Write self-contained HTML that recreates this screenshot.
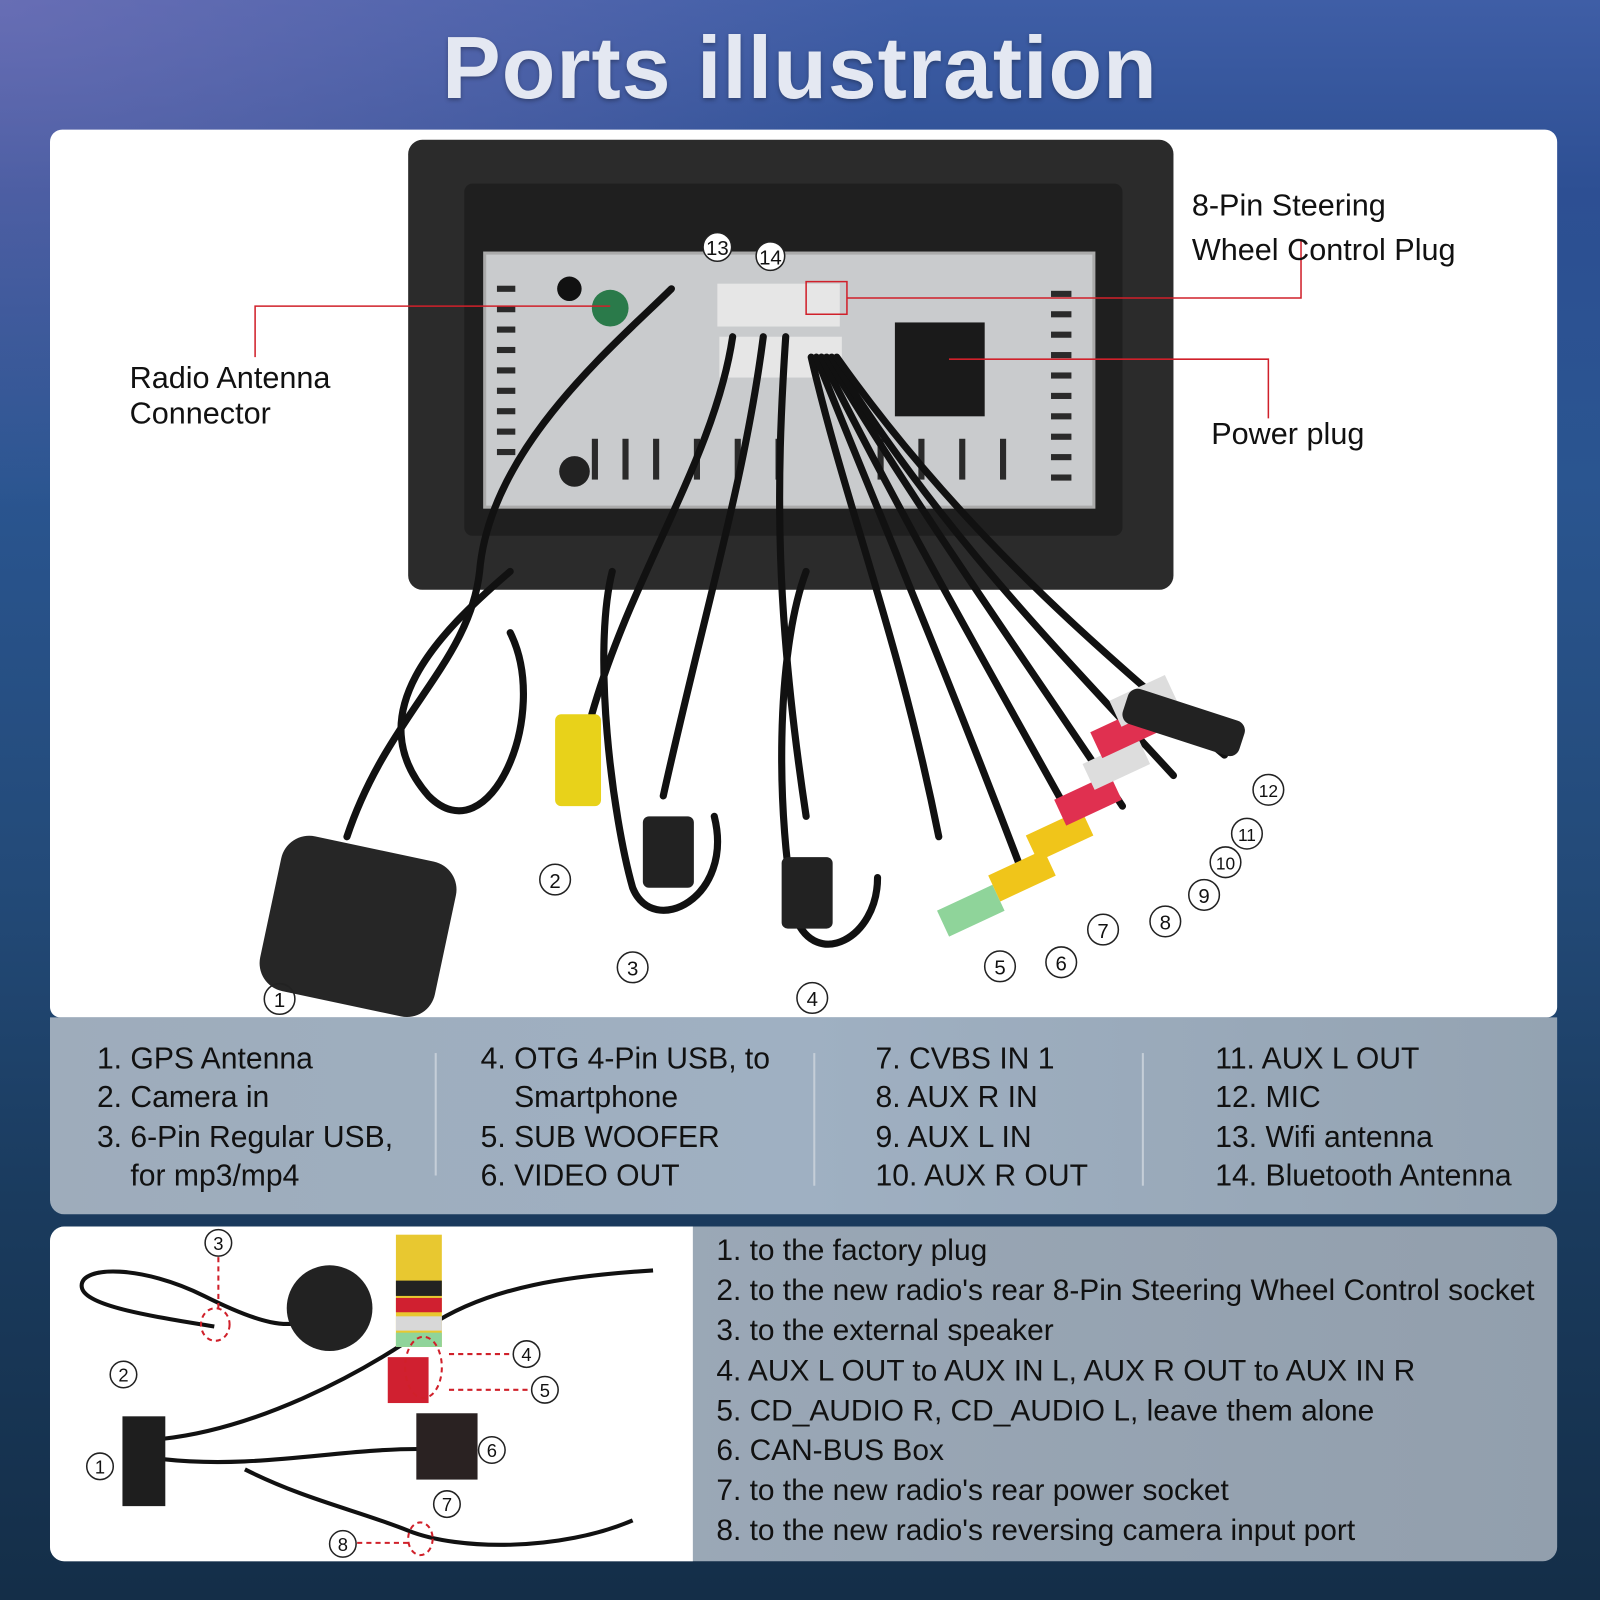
<!DOCTYPE html>
<html><head><meta charset="utf-8"><style>
html,body{margin:0;padding:0;width:1600px;height:1600px;overflow:hidden}
#w{position:absolute;left:0;top:0;width:1568px;height:1568px;transform:scale(1.020408);transform-origin:0 0;
background:linear-gradient(180deg,#3f5ea6 0%,#2d4f93 12%,#2a5590 30%,#234a78 55%,#1a3b5e 75%,#142e48 100%);font-family:"Liberation Sans",sans-serif;overflow:hidden}
#bgl{position:absolute;left:0;top:0;width:1568px;height:700px;background:radial-gradient(ellipse 900px 500px at 0 0,rgba(130,120,190,.6),rgba(40,70,160,0) 100%)}
.t{position:absolute;white-space:nowrap;color:#111}
.a{position:absolute}
</style></head><body><div id="w"><div id="bgl"></div>
<div class="t" style="left:0;width:1568px;text-align:center;top:18px;font-size:86px;font-weight:bold;color:#e4e8f2;letter-spacing:1px;text-shadow:0 2px 4px rgba(0,0,0,.3)">Ports illustration</div>

<div class="a" style="left:49px;top:127px;width:1477px;height:870px;background:#fff;border-radius:12px 12px 10px 10px"></div>
<div class="a" style="left:49px;top:997px;width:1477px;height:193px;background:linear-gradient(90deg,#9eacbb,#9fb0c2 50%,#94a3b2);border-radius:0 0 14px 14px"></div>
<div class="a" style="left:49px;top:1202px;width:1477px;height:328px;background:linear-gradient(90deg,#a0aebd,#929fad);border-radius:14px"></div>
<div class="a" style="left:49px;top:1202px;width:630px;height:328px;background:#fff;border-radius:14px 0 0 14px"></div>

<svg class="a" style="left:0;top:0" width="1568" height="1568">
<rect x="400" y="137" width="750" height="441" rx="14" fill="#2b2b2b"/>
<rect x="455" y="180" width="645" height="345" rx="8" fill="#1f1f1f"/>
<rect x="475" y="248" width="597" height="249" fill="#c9cbcd"/>
<rect x="475" y="248" width="597" height="249" fill="none" stroke="#aaa" stroke-width="3"/>
<g fill="#2a2a2a">
<rect x="487" y="280" width="18" height="6"/><rect x="487" y="300" width="18" height="6"/><rect x="487" y="320" width="18" height="6"/><rect x="487" y="340" width="18" height="6"/><rect x="487" y="360" width="18" height="6"/><rect x="487" y="380" width="18" height="6"/><rect x="487" y="400" width="18" height="6"/><rect x="487" y="420" width="18" height="6"/><rect x="487" y="440" width="18" height="6"/>
<rect x="1030" y="285" width="20" height="6"/><rect x="1030" y="305" width="20" height="6"/><rect x="1030" y="325" width="20" height="6"/><rect x="1030" y="345" width="20" height="6"/><rect x="1030" y="365" width="20" height="6"/><rect x="1030" y="385" width="20" height="6"/><rect x="1030" y="405" width="20" height="6"/><rect x="1030" y="425" width="20" height="6"/><rect x="1030" y="445" width="20" height="6"/><rect x="1030" y="465" width="20" height="6"/>
<rect x="580" y="430" width="6" height="40"/><rect x="610" y="430" width="6" height="40"/><rect x="640" y="430" width="6" height="40"/><rect x="680" y="430" width="6" height="40"/><rect x="720" y="430" width="6" height="40"/><rect x="760" y="430" width="6" height="40"/><rect x="860" y="430" width="6" height="40"/><rect x="900" y="430" width="6" height="40"/><rect x="940" y="430" width="6" height="40"/><rect x="980" y="430" width="6" height="40"/>
</g>
<circle cx="558" cy="283" r="12" fill="#111"/><circle cx="598" cy="302" r="18" fill="#2a7a4a"/><circle cx="563" cy="462" r="15" fill="#222"/>
<rect x="703" y="278" width="120" height="42" fill="#e6e6e6"/><rect x="705" y="330" width="120" height="40" fill="#e6e6e6"/>
<rect x="877" y="316" width="88" height="92" fill="#1a1a1a"/>
<g fill="none" stroke="#111" stroke-width="7" stroke-linecap="round">
<path d="M658 283 C600 340 480 440 470 560 C460 650 380 700 340 820"/>
<path d="M718 330 C700 450 620 560 580 700"/>
<path d="M748 330 C730 470 690 600 650 780"/>
<path d="M770 330 C760 480 760 600 790 800"/>
<path d="M795 350 C830 500 880 620 920 820"/>
<path d="M800 350 C860 500 920 640 1000 850"/>
<path d="M805 350 C880 500 960 640 1060 820"/>
<path d="M810 350 C900 500 1000 640 1100 790"/>
<path d="M815 350 C920 520 1040 640 1150 760"/>
<path d="M820 350 C940 520 1080 640 1200 740"/>
<path d="M500 560 C430 620 350 700 420 780 C480 840 540 700 500 620"/>
<path d="M600 560 C580 640 600 800 620 870 C640 920 720 880 700 800"/>
<path d="M790 560 C760 640 760 800 780 900 C800 950 860 920 860 860"/>
</g>
<rect x="265" y="830" width="175" height="155" rx="28" fill="#262626" transform="rotate(12 350 900)"/>
<rect x="544" y="700" width="45" height="90" rx="6" fill="#e8d21a"/>
<rect x="630" y="800" width="50" height="70" rx="6" fill="#222"/>
<rect x="766" y="840" width="50" height="70" rx="6" fill="#222"/>
<g transform="rotate(-25 1050 820)">
<rect x="900" y="830" width="60" height="28" fill="#8fd49a"/><rect x="960" y="820" width="60" height="28" fill="#f0c51a"/><rect x="1010" y="800" width="60" height="28" fill="#f0c51a"/><rect x="1050" y="780" width="60" height="28" fill="#e03050"/><rect x="1090" y="760" width="60" height="28" fill="#ddd"/><rect x="1110" y="735" width="60" height="28" fill="#e03050"/><rect x="1140" y="715" width="60" height="28" fill="#ddd"/>
</g>
<rect x="1100" y="690" width="120" height="36" rx="10" fill="#222" transform="rotate(18 1160 708)"/>
<g stroke="#d0202a" stroke-width="1.5" fill="none">
<path d="M250 350 V300 H598"/>
<path d="M790 276 H830 V308 H790 Z"/><path d="M830 292 H1275 V235"/>
<path d="M930 352 H1243 V410"/>
</g>
<g fill="none" stroke="#222" stroke-width="1.5">
<circle cx="703" cy="242" r="14" fill="#fff"/><circle cx="755" cy="251" r="14" fill="#fff"/>
<circle cx="274" cy="979" r="15"/><circle cx="544" cy="862" r="15"/><circle cx="620" cy="948" r="15"/><circle cx="796" cy="978" r="15"/>
<circle cx="980" cy="947" r="15"/><circle cx="1040" cy="943" r="15"/><circle cx="1081" cy="911" r="15"/><circle cx="1142" cy="903" r="15"/><circle cx="1180" cy="877" r="15"/><circle cx="1201" cy="845" r="15"/><circle cx="1222" cy="817" r="15"/><circle cx="1243" cy="774" r="15"/>
<circle cx="214" cy="1218" r="13"/><circle cx="121" cy="1347" r="13"/><circle cx="98" cy="1437" r="13"/><circle cx="516" cy="1327" r="13"/><circle cx="534" cy="1362" r="13"/><circle cx="482" cy="1421" r="13"/><circle cx="438" cy="1474" r="13"/><circle cx="336" cy="1513" r="13"/>
</g>
<g font-family="Liberation Sans" font-size="20" text-anchor="middle" fill="#111">
<text x="703" y="250">13</text><text x="755" y="259">14</text>
<text x="274" y="987">1</text><text x="544" y="870">2</text><text x="620" y="956">3</text><text x="796" y="986">4</text>
<text x="980" y="955">5</text><text x="1040" y="951">6</text><text x="1081" y="919">7</text><text x="1142" y="911">8</text><text x="1180" y="885">9</text><text x="1201" y="852" font-size="17">10</text><text x="1222" y="824" font-size="17">11</text><text x="1243" y="781" font-size="17">12</text>
<text x="214" y="1225" font-size="18">3</text><text x="121" y="1354" font-size="18">2</text><text x="98" y="1444" font-size="18">1</text><text x="516" y="1334" font-size="18">4</text><text x="534" y="1369" font-size="18">5</text><text x="482" y="1428" font-size="18">6</text><text x="438" y="1481" font-size="18">7</text><text x="336" y="1520" font-size="18">8</text>
</g>
<g fill="none" stroke="#111" stroke-width="4">
<path d="M210 1300 C150 1290 80 1280 80 1260 C80 1240 140 1240 200 1270 C260 1300 280 1300 300 1295"/>
<path d="M160 1410 C250 1400 350 1350 420 1300 C480 1260 560 1250 640 1245"/>
<path d="M160 1430 C250 1440 330 1420 410 1420"/>
<path d="M240 1440 C300 1470 350 1480 400 1500 C450 1520 550 1520 620 1490"/>
</g>
<circle cx="323" cy="1282" r="42" fill="#222"/>
<rect x="120" y="1388" width="42" height="88" fill="#1e1e1e"/>
<rect x="408" y="1385" width="60" height="65" fill="#2a2222"/>
<rect x="388" y="1210" width="45" height="110" fill="#e8c830"/>
<rect x="388" y="1255" width="45" height="15" fill="#222"/><rect x="388" y="1272" width="45" height="14" fill="#d02030"/><rect x="388" y="1290" width="45" height="14" fill="#d8d8d8"/><rect x="388" y="1306" width="45" height="14" fill="#8fd49a"/>
<rect x="380" y="1330" width="40" height="45" fill="#d02030"/>
<g stroke="#d0202a" stroke-width="2" stroke-dasharray="5 4" fill="none">
<path d="M214 1232 V1285"/><ellipse cx="211" cy="1298" rx="14" ry="16"/>
<path d="M440 1327 H502"/><path d="M440 1362 H520"/><ellipse cx="415" cy="1340" rx="18" ry="30"/>
<path d="M350 1512 H400"/><ellipse cx="412" cy="1508" rx="12" ry="16"/>
</g>
</svg>

<div class="t" style="left:1168px;top:180px;font-size:30px;line-height:44px">8-Pin Steering<br>Wheel Control Plug</div>
<div class="t" style="left:127px;top:353px;font-size:30px;line-height:35px">Radio Antenna<br>Connector</div>
<div class="t" style="left:1187px;top:409px;font-size:30px">Power plug</div>

<div class="a" style="left:426px;top:1032px;width:2px;height:120px;background:#c5ced8"></div>
<div class="a" style="left:797px;top:1032px;width:2px;height:130px;background:#c5ced8"></div>
<div class="a" style="left:1119px;top:1032px;width:2px;height:130px;background:#c5ced8"></div>
<div class="t" style="left:95px;top:1019px;font-size:29.5px;line-height:38.3px">1. GPS Antenna<br>2. Camera in<br>3. 6-Pin Regular USB,<br>&nbsp;&nbsp;&nbsp;&nbsp;for mp3/mp4</div>
<div class="t" style="left:471px;top:1019px;font-size:29.5px;line-height:38.3px">4. OTG 4-Pin USB, to<br>&nbsp;&nbsp;&nbsp;&nbsp;Smartphone<br>5. SUB WOOFER<br>6. VIDEO OUT</div>
<div class="t" style="left:858px;top:1019px;font-size:29.5px;line-height:38.3px">7. CVBS IN 1<br>8. AUX R IN<br>9. AUX L IN<br>10. AUX R OUT</div>
<div class="t" style="left:1191px;top:1019px;font-size:29.5px;line-height:38.3px">11. AUX L OUT<br>12. MIC<br>13. Wifi antenna<br>14. Bluetooth Antenna</div>
<div class="t" style="left:702px;top:1206px;font-size:29.3px;line-height:39.2px">1. to the factory plug<br>2. to the new radio's rear 8-Pin Steering Wheel Control socket<br>3. to the external speaker<br>4. AUX L OUT to AUX IN L, AUX R OUT to AUX IN R<br>5. CD_AUDIO R, CD_AUDIO L, leave them alone<br>6. CAN-BUS Box<br>7. to the new radio's rear power socket<br>8. to the new radio's reversing camera input port</div>
</div></body></html>
